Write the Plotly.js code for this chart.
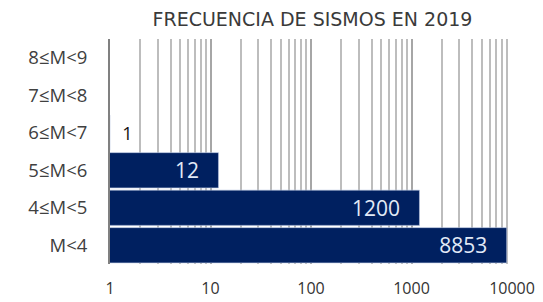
<!DOCTYPE html>
<html>
<head>
<meta charset="utf-8">
<script src="https://cdn.plot.ly/plotly-3.0.1.min.js"></script>
<style>html,body{margin:0;padding:0;background:#fff}#chart{width:543px;height:302px}</style>
</head>
<body>
<div id="chart"></div>
<script>
const categories = ['M<4', '4≤M<5', '5≤M<6', '6≤M<7', '7≤M<8', '8≤M<9'];
const counts = [8853, 1200, 12, 1, 0, 0];
const xTickVals = [1, 10, 100, 1000, 10000];
const xTickText = ['1', '10', '100', '1000', '10000'];
const titleText = 'FRECUENCIA DE SISMOS EN 2019';

const NB = '\u00a0';
const plotValues = counts.map(v => v > 0 ? v : null);
const labels = counts.map(v => v > 1 ? String(v) + NB + NB + NB : (v > 0 ? NB + NB + String(v) : ''));
const positions = counts.map(v => v > 1 ? 'inside' : 'outside');

const trace = {
  type: 'bar',
  orientation: 'h',
  y: categories,
  x: plotValues,
  text: labels,
  textposition: positions,
  insidetextanchor: 'end',
  constraintext: 'none',
  cliponaxis: false,
  insidetextfont: {family: 'Open Sans, sans-serif', size: 21, color: '#e2eaf7'},
  outsidetextfont: {family: 'Open Sans, sans-serif', size: 18, color: '#111'},
  marker: {color: '#002060', line: {color: '#b8c6e0', width: 0.6}},
  hoverinfo: 'none'
};

const layout = {
  width: 543, height: 302,
  margin: {l: 110, r: 31, t: 39, b: 38},
  paper_bgcolor: '#fff', plot_bgcolor: '#fff',
  showlegend: false,
  bargap: 0.06,
  title: {text: titleText, x: 0.5755, xanchor: 'center', y: 0.935, yanchor: 'middle',
          font: {family: 'DejaVu Sans, sans-serif', size: 19, color: '#3a3a3a'}},
  xaxis: {
    type: 'log', range: [0, 4],
    tickvals: xTickVals, ticktext: xTickText,
    showgrid: true, gridcolor: '#a6a6a6', gridwidth: 2,
    minor: {showgrid: true, gridcolor: '#bdbdbd', gridwidth: 2, dtick: 'D1', ticks: ''},
    zeroline: false, showline: false, ticks: '',
    ticklabelstandoff: 13,
    tickfont: {family: 'Open Sans, sans-serif', size: 16, color: '#333'},
    fixedrange: true
  },
  yaxis: {
    type: 'category', categoryorder: 'array', categoryarray: categories,
    showgrid: false, zeroline: false,
    showline: true, linecolor: '#808080', linewidth: 2,
    ticks: '', ticklabelstandoff: 17,
    tickfont: {family: 'Open Sans, sans-serif', size: 18.5, color: '#404040'},
    fixedrange: true
  }
};

Plotly.newPlot('chart', [trace], layout, {displayModeBar: false, staticPlot: true});
</script>
</body>
</html>
